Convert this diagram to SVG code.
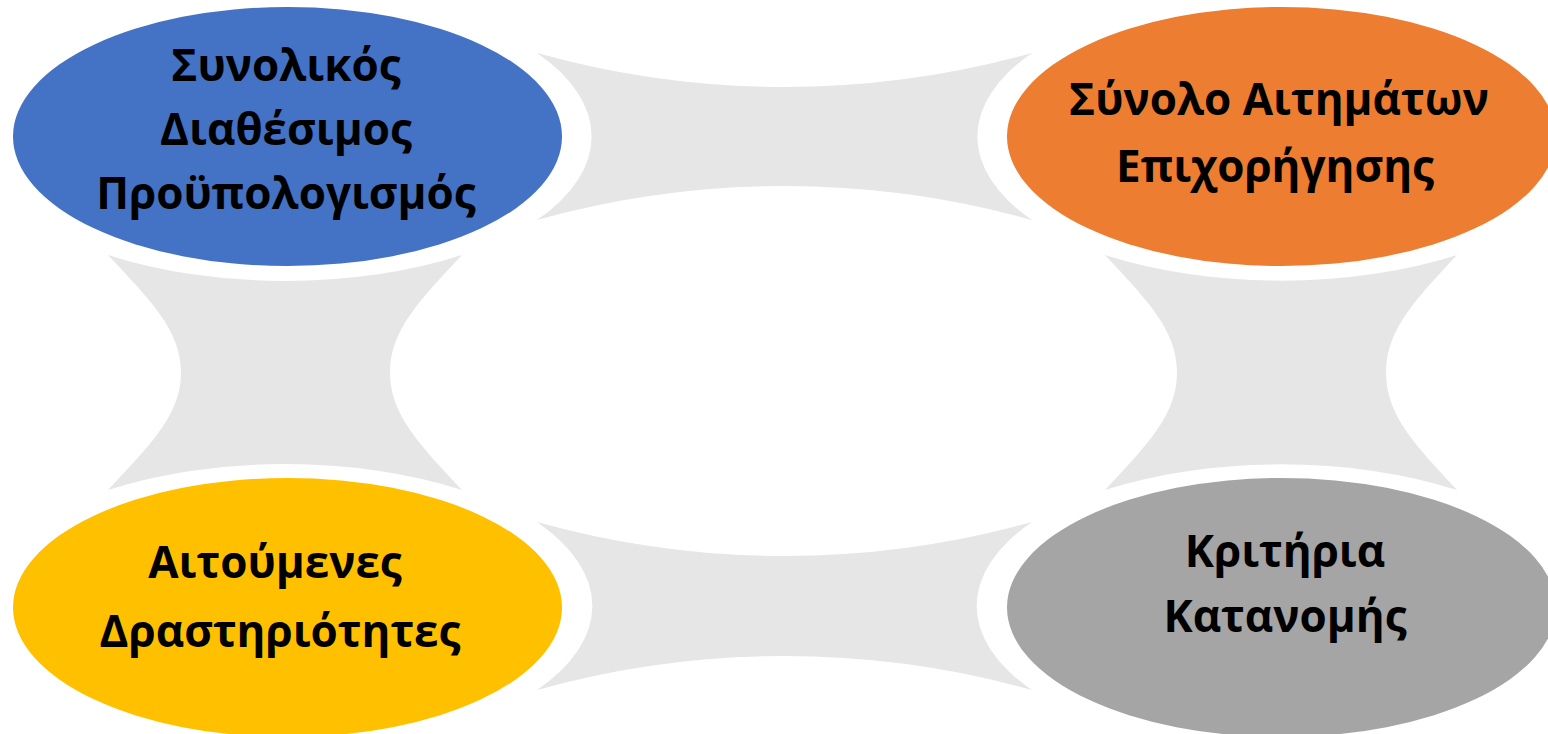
<svg xmlns="http://www.w3.org/2000/svg" width="1548" height="734" viewBox="0 0 1548 734">
<style>
.conn{fill:#E7E6E6;stroke:none}
.lbl{font-family:"Open Sans","Noto Sans","Liberation Sans",sans-serif;font-weight:bold;font-size:44px;fill:#000;text-anchor:middle}
</style>
<rect width="1548" height="734" fill="#fff"/>
<g id="connectors">
<path class="conn" d="M537,53 A918,918 0 0 0 1032,53 A304,146 0 0 0 1032,220 A918,918 0 0 0 537,220 A304,146 0 0 0 537,53 Z"/>
<path class="conn" d="M537,522 A918,918 0 0 0 1032,522 A304,146 0 0 0 1032,690 A918,918 0 0 0 537,690 A304,146 0 0 0 537,522 Z"/>
<path class="conn" d="M108,255 A310,145 0 0 0 462,255 C420,300 390,330 390,372.5 C390,415 420,445 462,490 A310,145 0 0 0 108,490 C150,445 181,415 181,372.5 C181,330 150,300 108,255 Z"/>
<path class="conn" d="M1105,255 A310,145 0 0 0 1457,255 C1415,300 1386,330 1386,372.5 C1386,415 1415,445 1457,490 A310,145 0 0 0 1105,490 C1147,445 1177,415 1177,372.5 C1177,330 1147,300 1105,255 Z"/>
</g>
<g id="node-budget">
<ellipse cx="287.5" cy="136.5" rx="274.5" ry="129.5" fill="#4472C4"/>
<text class="lbl" x="286" y="81">Συνολικός</text>
<text class="lbl" x="286" y="145">Διαθέσιμος</text>
<text class="lbl" x="286" y="209">Προϋπολογισμός</text>
</g>
<g id="node-requests">
<ellipse cx="1281.5" cy="136.5" rx="274.5" ry="129.5" fill="#ED7D31"/>
<text class="lbl" x="1279" y="115">Σύνολο Αιτημάτων</text>
<text class="lbl" x="1275" y="182">Επιχορήγησης</text>
</g>
<g id="node-activities">
<ellipse cx="287.5" cy="607.5" rx="274.5" ry="129.5" fill="#FFC000"/>
<text class="lbl" x="275" y="578">Αιτούμενες</text>
<text class="lbl" x="280" y="647">Δραστηριότητες</text>
</g>
<g id="node-criteria">
<ellipse cx="1281.5" cy="607.5" rx="274.5" ry="129.5" fill="#A5A5A5"/>
<text class="lbl" x="1285" y="567">Κριτήρια</text>
<text class="lbl" x="1285" y="632">Κατανομής</text>
</g>
</svg>
